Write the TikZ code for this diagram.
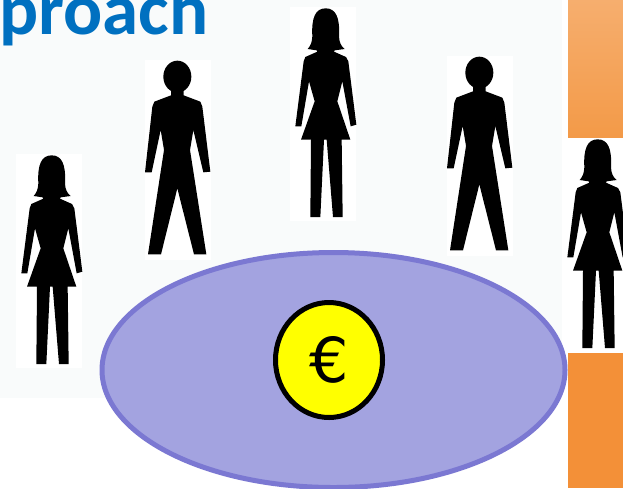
\documentclass[tikz,border=0pt]{standalone}
\usepackage{fontspec}
\setmainfont{Carlito}
\newfontfamily\eurofont{DejaVu Sans}
\usepackage{tikz}
\usetikzlibrary{shapes.geometric}

\definecolor{pagetint}{HTML}{F9FBFB}
\definecolor{titleblue}{HTML}{0070C0}
\definecolor{pooledge}{HTML}{7B78D2}
\definecolor{poolfill}{HTML}{A3A3E0}
\definecolor{orangetop}{HTML}{F6AE6E}
\definecolor{orangemid}{HTML}{F39A48}
\definecolor{orangelow}{HTML}{F39038}
\definecolor{coinfill}{HTML}{FFFF00}

\tikzset{
	woman/.pic={
		\fill[white] (0,0) rectangle (66,214);
		\fill[black,scale=1/3]
		(82,134) -- (80,130) -- (53,126) .. controls (62,116) and (66,106) .. (67,88)
		.. controls (64,32) and (76,4) .. (107,4)
		.. controls (138,4) and (150,32) .. (147,88)
		.. controls (148,106) and (152,116) .. (164,126)
		-- (134,130) -- (132,134) -- (168,150) -- (175,163) -- (199,353) -- (182,358)
		-- (157,223) -- (142,283) -- (181,398) -- (155,398) -- (158,630)
		-- (129,630) -- (110,398) -- (102,398) -- (91,630) -- (61,630)
		-- (63,398) -- (33,398) -- (74,283) -- (57,223) -- (34,358)
		-- (16,358) -- (41,163) -- (46,150) -- cycle;
	},
	man/.pic={
		\fill[white] (0,0) rectangle (66,200);
		\fill[black,scale=1/3] (97,50) ellipse (42 and 48)
		(78,92) -- (116,92) -- (116,106) -- (166,125) -- (172,140) -- (196,335)
		-- (175,337) -- (145,210) -- (135,270) -- (184,583) -- (147,583)
		-- (97,385) -- (48,583) -- (9,583) -- (57,270) -- (47,210)
		-- (20,337) -- (0,337) -- (22,140) -- (28,125) -- (78,106) -- cycle;
	}
}

\begin{document}
\begin{tikzpicture}[
		x=1pt,y=-1pt,
		pool/.style={draw=pooledge, fill=poolfill, line width=5pt, ellipse, inner sep=0pt, minimum width=463pt, minimum height=235pt},
		coin/.style={draw=black, fill=coinfill, line width=5pt, ellipse, inner sep=0pt, minimum width=107pt, minimum height=115pt}
	]
	\clip (0,0) rectangle (623,488);
	\fill[pagetint] (0,0) rectangle (562,398);
	\fill[white] (0,398) rectangle (623,488);

	% orange bars
	\shade[top color=orangetop, bottom color=orangemid] (568,0) rectangle (623,137);
	\fill[orangelow] (568,353) rectangle (623,488);

	\node[text=titleblue, anchor=base west, inner sep=0pt] (title) at (-1,34) {\fontsize{73}{73}\selectfont\bfseries proach};

	\foreach \px/\py in {16/154, 290/7, 562/138}
		\pic at (\px,\py) {woman};
	\foreach \px/\py in {145/60, 447/56}
		\pic at (\px,\py) {man};

	\node[pool] (pool) at (333.5,370) {};
	\node[coin] (coin) at (329,360) {\fontsize{62}{62}\selectfont\eurofont €};
\end{tikzpicture}
\end{document}
